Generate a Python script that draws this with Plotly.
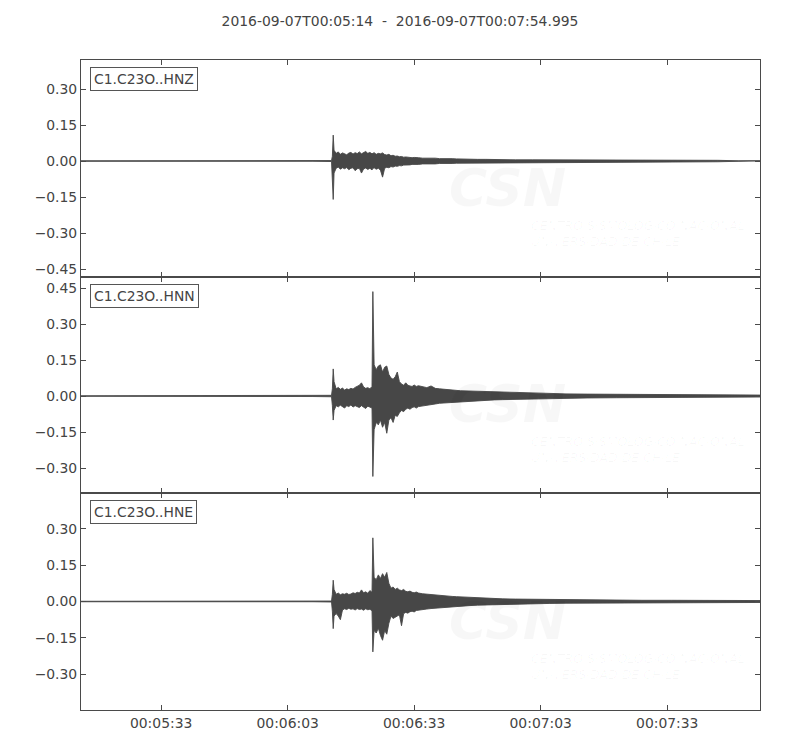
import pandas as pd
import plotly.graph_objects as go
from plotly.subplots import make_subplots

# ---------------- data ----------------
START = "2016-09-07 00:05:14"
END = "2016-09-07 00:07:54.995"
TITLE = "2016-09-07T00:05:14\u00a0\u00a0-\u00a0\u00a02016-09-07T00:07:54.995"
CHANNELS = ["C1.C23O..HNZ", "C1.C23O..HNN", "C1.C23O..HNE"]
TICK_LABELS = ["00:05:33", "00:06:03", "00:06:33", "00:07:03", "00:07:33"]

# seconds after START (envelope sample times)
T = [0, 15, 30, 45, 55, 59.4, 59.6, 59.8,
     60.0, 60.5, 61.0, 61.5, 62.0, 62.5, 63.0, 63.5, 64.0, 64.5, 65.0, 65.5,
     66.0, 66.5, 67.0, 67.5, 68.0, 68.5, 69.0, 69.2,
     69.5, 70.0, 70.5, 71.0, 71.5, 72.0, 72.5, 73.0, 73.5, 74.0, 74.5, 75.0,
     75.5, 76.0, 76.5, 77.0, 77.5, 78.0, 78.5, 79.0, 79.5, 80.0,
     81, 82, 83, 84, 85, 86, 87, 88, 89, 90,
     92, 94, 96, 98, 100,
     103, 107, 111, 115, 120, 127, 133, 140, 146, 151, 156, 161]

# HNZ envelope (upper / lower)
HNZ_UP = [0.001, 0.001, 0.001, 0.001, 0.001, 0.002, 0.02, 0.108,
          0.045, 0.032, 0.038, 0.028, 0.034, 0.030, 0.026, 0.033, 0.036, 0.029, 0.035, 0.031,
          0.038, 0.030, 0.034, 0.040, 0.032, 0.036, 0.030, 0.033,
          0.035, 0.028, 0.032, 0.030, 0.034, 0.027, 0.025, 0.028, 0.022, 0.024, 0.020, 0.021,
          0.018, 0.019, 0.016, 0.017, 0.015, 0.016, 0.014, 0.015, 0.013, 0.014,
          0.012, 0.013, 0.011, 0.012, 0.010, 0.011, 0.009, 0.010, 0.009, 0.008,
          0.008, 0.007, 0.007, 0.006, 0.006,
          0.005, 0.005, 0.005, 0.004, 0.004, 0.004, 0.004, 0.004, 0.0035, 0.003, 0.001, 0.001]
HNZ_LO = [-0.001, -0.001, -0.001, -0.001, -0.001, -0.002, -0.03, -0.16,
          -0.05, -0.030, -0.025, -0.034, -0.028, -0.032, -0.027, -0.036, -0.030, -0.028, -0.040, -0.032,
          -0.030, -0.050, -0.033, -0.029, -0.035, -0.030, -0.037, -0.031,
          -0.028, -0.034, -0.030, -0.038, -0.067, -0.030, -0.026, -0.028, -0.023, -0.025, -0.021, -0.022,
          -0.019, -0.020, -0.017, -0.018, -0.016, -0.016, -0.014, -0.015, -0.013, -0.014,
          -0.012, -0.013, -0.011, -0.012, -0.010, -0.011, -0.009, -0.010, -0.009, -0.008,
          -0.008, -0.007, -0.007, -0.006, -0.006,
          -0.005, -0.005, -0.005, -0.004, -0.004, -0.004, -0.004, -0.004, -0.0035, -0.003, -0.001, -0.001]

# HNN envelope
HNN_UP = [0.001, 0.001, 0.002, 0.002, 0.002, 0.003, 0.03, 0.113,
          0.06, 0.030, 0.036, 0.028, 0.033, 0.025, 0.030, 0.027, 0.032, 0.029, 0.036, 0.040,
          0.045, 0.055, 0.038, 0.032, 0.035, 0.030, 0.040, 0.435,
          0.13, 0.11, 0.125, 0.13, 0.10, 0.12, 0.125, 0.09, 0.075, 0.07, 0.08, 0.10,
          0.06, 0.05, 0.045, 0.055, 0.045, 0.042, 0.040, 0.046, 0.040, 0.043,
          0.038, 0.035, 0.042, 0.032, 0.030, 0.028, 0.029, 0.026, 0.024, 0.022,
          0.021, 0.020, 0.018, 0.016, 0.015,
          0.013, 0.011, 0.010, 0.009, 0.008, 0.007, 0.006, 0.005, 0.005, 0.005, 0.004, 0.004]
HNN_LO = [-0.001, -0.001, -0.002, -0.002, -0.002, -0.003, -0.04, -0.10,
          -0.06, -0.040, -0.045, -0.038, -0.042, -0.050, -0.040, -0.044, -0.037, -0.046, -0.040, -0.043,
          -0.048, -0.040, -0.045, -0.052, -0.042, -0.046, -0.050, -0.335,
          -0.14, -0.11, -0.12, -0.10, -0.13, -0.11, -0.155, -0.10, -0.09, -0.11, -0.08, -0.085,
          -0.07, -0.06, -0.065, -0.055, -0.050, -0.055, -0.048, -0.045, -0.050, -0.044,
          -0.040, -0.038, -0.035, -0.033, -0.030, -0.029, -0.027, -0.026, -0.024, -0.022,
          -0.021, -0.019, -0.018, -0.016, -0.015,
          -0.013, -0.011, -0.010, -0.009, -0.008, -0.007, -0.006, -0.005, -0.005, -0.005, -0.004, -0.004]

# HNE envelope
HNE_UP = [0.001, 0.001, 0.001, 0.001, 0.001, 0.002, 0.03, 0.088,
          0.05, 0.030, 0.035, 0.028, 0.032, 0.030, 0.034, 0.029, 0.031, 0.036, 0.033, 0.038,
          0.035, 0.048, 0.036, 0.040, 0.034, 0.045, 0.038, 0.263,
          0.10, 0.09, 0.11, 0.095, 0.115, 0.10, 0.12, 0.075, 0.055, 0.06, 0.050, 0.055,
          0.048, 0.045, 0.050, 0.042, 0.040, 0.043, 0.038, 0.036, 0.039, 0.035,
          0.032, 0.030, 0.028, 0.027, 0.025, 0.024, 0.022, 0.021, 0.020, 0.019,
          0.017, 0.015, 0.013, 0.012, 0.011,
          0.010, 0.009, 0.008, 0.007, 0.007, 0.006, 0.005, 0.005, 0.004, 0.004, 0.004, 0.004]
HNE_LO = [-0.001, -0.001, -0.001, -0.001, -0.001, -0.002, -0.04, -0.112,
          -0.06, -0.05, -0.06, -0.075, -0.035, -0.030, -0.033, -0.028, -0.032, -0.030, -0.035, -0.029,
          -0.033, -0.031, -0.036, -0.030, -0.034, -0.032, -0.038, -0.208,
          -0.12, -0.13, -0.11, -0.14, -0.16, -0.12, -0.135, -0.09, -0.06, -0.07, -0.065, -0.06,
          -0.055, -0.10, -0.05, -0.045, -0.048, -0.042, -0.040, -0.043, -0.037, -0.035,
          -0.033, -0.031, -0.029, -0.027, -0.025, -0.024, -0.022, -0.021, -0.020, -0.019,
          -0.017, -0.015, -0.013, -0.012, -0.011,
          -0.010, -0.009, -0.008, -0.007, -0.007, -0.006, -0.005, -0.005, -0.004, -0.004, -0.004, -0.004]

ENVELOPES = [(HNZ_UP, HNZ_LO), (HNN_UP, HNN_LO), (HNE_UP, HNE_LO)]
Y_RANGES = [[-0.483, 0.421], [-0.404, 0.496], [-0.448, 0.448]]
Y_TICKS = [[0.30, 0.15, 0.0, -0.15, -0.30, -0.45],
           [0.45, 0.30, 0.15, 0.0, -0.15, -0.30],
           [0.30, 0.15, 0.0, -0.15, -0.30]]

# ---------------- figure ----------------
WAVE = "#474747"
AXC = "#4a4a4a"
FONT = "DejaVu Sans"
FS = 13.9

base = pd.Timestamp(START)
times = base + pd.to_timedelta(T, unit="s")
tx = list(times)

fig = make_subplots(rows=3, cols=1, shared_xaxes=True, vertical_spacing=0)

for i, (up, lo) in enumerate(ENVELOPES):
    xs = tx + tx[::-1]
    ys = list(up) + list(lo)[::-1]
    fig.add_trace(go.Scatter(x=xs, y=ys, mode="lines", fill="toself",
                             fillcolor=WAVE, line=dict(color=WAVE, width=0.9),
                             hoverinfo="skip", showlegend=False), row=i + 1, col=1)

domains = [[0.6662, 1.0], [0.3338, 0.6662], [0.0, 0.3338]]
tickvals_x = [pd.Timestamp("2016-09-07 " + s) for s in TICK_LABELS]

def fmt(v):
    s = f"{abs(v):.2f}"
    return ("\u2212" + s) if v < 0 else s

for i in range(3):
    n = "" if i == 0 else str(i + 1)
    fig.layout["xaxis" + n].update(
        range=[base, pd.Timestamp(END)], domain=[0, 1],
        tickvals=tickvals_x, ticktext=TICK_LABELS,
        showticklabels=(i == 2), ticks="inside", ticklen=5, tickcolor=AXC,
        showline=True, linecolor=AXC, linewidth=1, mirror="ticks",
        showgrid=False, zeroline=False,
        tickfont=dict(family=FONT, size=FS, color="#444"))
    fig.layout["yaxis" + n].update(
        range=Y_RANGES[i], domain=domains[i],
        tickvals=Y_TICKS[i], ticktext=[fmt(v) for v in Y_TICKS[i]],
        ticks="inside", ticklen=5, tickcolor=AXC,
        showline=True, linecolor=AXC, linewidth=1, mirror="ticks",
        showgrid=False, zeroline=False,
        tickfont=dict(family=FONT, size=FS, color="#444"))

    # faint watermark
    wm = "rgba(0,0,0,0.03)"
    fig.add_annotation(xref="x" + n + " domain", yref="y" + n + " domain",
                       x=0.628, y=0.41, xanchor="center", yanchor="middle",
                       text="<b><i>CSN</i></b>", showarrow=False,
                       font=dict(family=FONT, size=52, color=wm))
    fig.add_annotation(xref="x" + n + " domain", yref="y" + n + " domain",
                       x=0.66, y=0.2, xanchor="left", yanchor="middle",
                       text="<i>CENTRO SISMOLÓGICO NACIONAL<br>UNIVERSIDAD DE CHILE</i>",
                       align="left", showarrow=False,
                       font=dict(family=FONT, size=12.5, color=wm))

    # channel label box
    fig.add_annotation(xref="x" + n + " domain", yref="y" + n + " domain",
                       x=0.013, y=0.968, xanchor="left", yanchor="top",
                       text=CHANNELS[i], showarrow=False,
                       font=dict(family=FONT, size=FS, color="#444"),
                       bgcolor="white", bordercolor="#555", borderwidth=1, borderpad=3)

# the page body has an 8px margin, so the figure is sized to keep the
# plot area at x 81..760 and y 60..710 of the 800x750 window
fig.update_layout(
    width=792, height=742,
    margin=dict(l=73, r=40, t=52, b=40),
    paper_bgcolor="white", plot_bgcolor="white",
    title=dict(text=TITLE, x=392 / 792, xref="container", xanchor="center",
               y=1 - 13 / 742, yref="container", yanchor="middle",
               font=dict(family=FONT, size=FS, color="#444")),
    showlegend=False,
)

fig.write_html("out.html")
